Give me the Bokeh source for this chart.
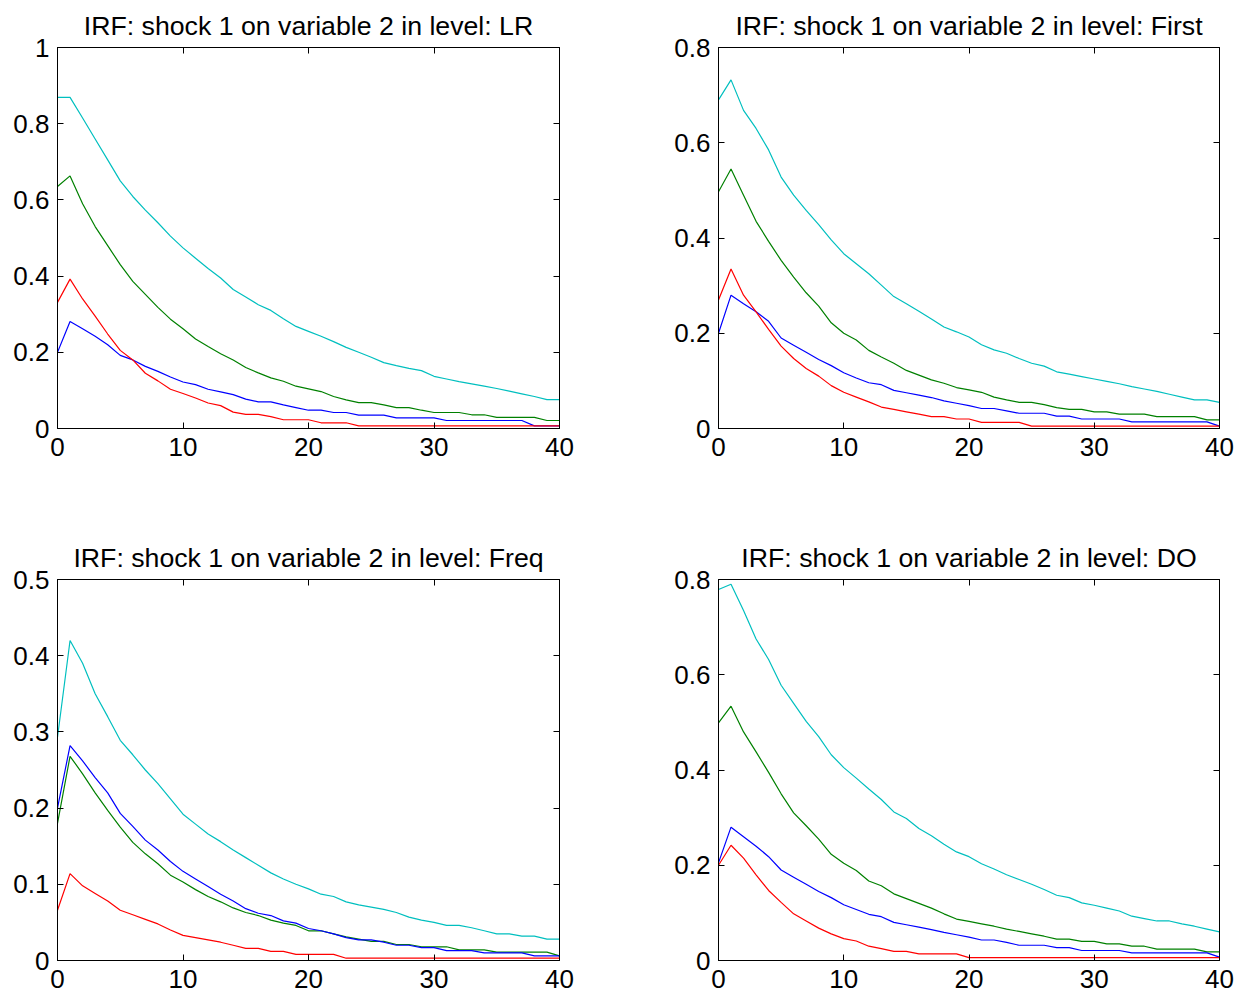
from bokeh.plotting import figure
from bokeh.models import LinearAxis, FixedTicker, Range1d
from bokeh.layouts import column, row
from bokeh.embed import file_html
from bokeh.resources import INLINE

horizon = list(range(41))

titles = ["IRF: shock 1 on variable 2 in level: LR",
          "IRF: shock 1 on variable 2 in level: First",
          "IRF: shock 1 on variable 2 in level: Freq",
          "IRF: shock 1 on variable 2 in level: DO"]

y_max = [1.0, 0.8, 0.5, 0.8]
y_ticks = [[0, 0.2, 0.4, 0.6, 0.8, 1.0],
           [0, 0.2, 0.4, 0.6, 0.8],
           [0, 0.1, 0.2, 0.3, 0.4, 0.5],
           [0, 0.2, 0.4, 0.6, 0.8]]
y_tick_labels = [["0", "0.2", "0.4", "0.6", "0.8", "1"],
                 ["0", "0.2", "0.4", "0.6", "0.8"],
                 ["0", "0.1", "0.2", "0.3", "0.4", "0.5"],
                 ["0", "0.2", "0.4", "0.6", "0.8"]]
x_ticks = [0, 10, 20, 30, 40]
x_tick_labels = ["0", "10", "20", "30", "40"]

# ---- LR ----
lr_upper = [0.869, 0.869, 0.815, 0.76, 0.705, 0.65, 0.609, 0.573, 0.54, 0.505, 0.474,
            0.447, 0.42, 0.395, 0.365, 0.345, 0.325, 0.31, 0.288, 0.268, 0.255,
            0.242, 0.228, 0.213, 0.2, 0.187, 0.173, 0.165, 0.158, 0.152, 0.137,
            0.13, 0.123, 0.117, 0.111, 0.105, 0.098, 0.091, 0.084, 0.076, 0.076]
lr_median = [0.635, 0.663, 0.59, 0.53, 0.48, 0.43, 0.386, 0.352, 0.318, 0.287, 0.262,
             0.235, 0.215, 0.196, 0.18, 0.16, 0.146, 0.133, 0.124, 0.111, 0.104,
             0.097, 0.084, 0.075, 0.068, 0.068, 0.062, 0.055, 0.055, 0.048, 0.042,
             0.042, 0.042, 0.036, 0.036, 0.029, 0.029, 0.029, 0.029, 0.021, 0.021]
lr_lower = [0.331, 0.392, 0.34, 0.295, 0.248, 0.205, 0.18, 0.145, 0.125, 0.103, 0.092,
            0.08, 0.067, 0.06, 0.043, 0.037, 0.037, 0.031, 0.023, 0.023, 0.023,
            0.015, 0.015, 0.015, 0.007, 0.007, 0.007, 0.007, 0.007, 0.007, 0.007,
            0.007, 0.007, 0.007, 0.007, 0.007, 0.007, 0.007, 0.007, 0.007, 0.007]
lr_point = [0.2, 0.281, 0.262, 0.242, 0.22, 0.192, 0.18, 0.163, 0.15, 0.135, 0.122,
            0.115, 0.103, 0.096, 0.089, 0.077, 0.07, 0.07, 0.062, 0.055, 0.048,
            0.048, 0.042, 0.042, 0.035, 0.035, 0.035, 0.028, 0.028, 0.028, 0.028,
            0.021, 0.021, 0.021, 0.021, 0.021, 0.021, 0.021, 0.007, 0.007, 0.007]

# ---- First ----
first_upper = [0.69, 0.732, 0.668, 0.63, 0.585, 0.528, 0.49, 0.458, 0.428, 0.396, 0.367,
               0.346, 0.325, 0.301, 0.277, 0.262, 0.246, 0.23, 0.213, 0.203, 0.192,
               0.176, 0.165, 0.158, 0.147, 0.137, 0.131, 0.119, 0.114, 0.109, 0.104,
               0.099, 0.094, 0.088, 0.083, 0.078, 0.072, 0.066, 0.06, 0.06, 0.055]
first_median = [0.497, 0.545, 0.49, 0.435, 0.393, 0.353, 0.318, 0.285, 0.257, 0.222, 0.2,
                0.186, 0.164, 0.15, 0.137, 0.122, 0.112, 0.102, 0.095, 0.086, 0.081,
                0.076, 0.066, 0.06, 0.055, 0.055, 0.05, 0.044, 0.04, 0.04, 0.035,
                0.035, 0.03, 0.03, 0.03, 0.025, 0.025, 0.025, 0.025, 0.018, 0.018]
first_lower = [0.27, 0.335, 0.28, 0.245, 0.208, 0.173, 0.147, 0.126, 0.11, 0.09, 0.076,
               0.066, 0.056, 0.045, 0.04, 0.035, 0.03, 0.025, 0.025, 0.02, 0.02,
               0.013, 0.013, 0.013, 0.013, 0.005, 0.005, 0.005, 0.005, 0.005, 0.005,
               0.005, 0.005, 0.005, 0.005, 0.005, 0.005, 0.005, 0.005, 0.005, 0.005]
first_point = [0.2, 0.28, 0.262, 0.245, 0.225, 0.19, 0.175, 0.16, 0.145, 0.132, 0.117,
               0.106, 0.096, 0.092, 0.08, 0.075, 0.07, 0.065, 0.058, 0.053, 0.048,
               0.042, 0.042, 0.037, 0.032, 0.032, 0.032, 0.026, 0.026, 0.02, 0.02,
               0.02, 0.02, 0.014, 0.014, 0.014, 0.014, 0.014, 0.014, 0.014, 0.005]

# ---- Freq ----
freq_upper = [0.293, 0.42, 0.39, 0.35, 0.32, 0.289, 0.27, 0.25, 0.232, 0.212, 0.192,
              0.179, 0.166, 0.156, 0.145, 0.135, 0.125, 0.115, 0.107, 0.1, 0.094,
              0.087, 0.084, 0.077, 0.073, 0.07, 0.067, 0.063, 0.057, 0.053, 0.05,
              0.046, 0.046, 0.043, 0.039, 0.035, 0.035, 0.032, 0.032, 0.028, 0.028]
freq_median = [0.18, 0.268, 0.245, 0.22, 0.197, 0.175, 0.155, 0.14, 0.127, 0.112, 0.103,
               0.093, 0.084, 0.077, 0.069, 0.063, 0.059, 0.053, 0.049, 0.046, 0.039,
               0.039, 0.035, 0.031, 0.028, 0.025, 0.025, 0.021, 0.021, 0.018, 0.018,
               0.018, 0.014, 0.014, 0.014, 0.011, 0.011, 0.011, 0.011, 0.011, 0.006]
freq_lower = [0.066, 0.114, 0.098, 0.088, 0.078, 0.066, 0.06, 0.054, 0.048, 0.04, 0.033,
              0.03, 0.027, 0.024, 0.02, 0.016, 0.016, 0.012, 0.012, 0.008, 0.008,
              0.008, 0.008, 0.003, 0.003, 0.003, 0.003, 0.003, 0.003, 0.003, 0.003,
              0.003, 0.003, 0.003, 0.003, 0.003, 0.003, 0.003, 0.003, 0.003, 0.003]
freq_point = [0.2, 0.282, 0.262, 0.24, 0.22, 0.193, 0.176, 0.158, 0.145, 0.13, 0.117,
              0.107, 0.097, 0.087, 0.078, 0.068, 0.062, 0.059, 0.052, 0.049, 0.042,
              0.039, 0.035, 0.03, 0.027, 0.027, 0.024, 0.02, 0.02, 0.017, 0.017,
              0.013, 0.013, 0.013, 0.01, 0.01, 0.01, 0.01, 0.006, 0.006, 0.006]

# ---- DO ----
do_upper = [0.779, 0.79, 0.735, 0.675, 0.632, 0.578, 0.54, 0.502, 0.47, 0.432, 0.405,
            0.383, 0.36, 0.338, 0.312, 0.298, 0.277, 0.262, 0.244, 0.228, 0.218,
            0.203, 0.192, 0.18, 0.17, 0.16, 0.149, 0.137, 0.132, 0.121, 0.116,
            0.11, 0.104, 0.093, 0.088, 0.083, 0.083, 0.077, 0.072, 0.066, 0.06]
do_median = [0.499, 0.534, 0.48, 0.438, 0.395, 0.35, 0.31, 0.283, 0.255, 0.223, 0.204,
             0.189, 0.167, 0.157, 0.14, 0.13, 0.12, 0.11, 0.098, 0.087, 0.082,
             0.077, 0.072, 0.066, 0.061, 0.056, 0.051, 0.045, 0.045, 0.04, 0.04,
             0.035, 0.035, 0.03, 0.03, 0.024, 0.024, 0.024, 0.024, 0.018, 0.018]
do_lower = [0.2, 0.242, 0.215, 0.18, 0.147, 0.122, 0.098, 0.083, 0.068, 0.056, 0.046,
            0.041, 0.03, 0.025, 0.019, 0.019, 0.014, 0.014, 0.014, 0.014, 0.006,
            0.006, 0.006, 0.006, 0.006, 0.006, 0.006, 0.006, 0.006, 0.006, 0.006,
            0.006, 0.006, 0.006, 0.006, 0.006, 0.006, 0.006, 0.006, 0.006, 0.006]
do_point = [0.205, 0.28, 0.26, 0.24, 0.218, 0.19, 0.175, 0.16, 0.145, 0.132, 0.117,
            0.107, 0.097, 0.092, 0.08, 0.075, 0.07, 0.065, 0.059, 0.054, 0.049,
            0.043, 0.043, 0.038, 0.032, 0.032, 0.032, 0.027, 0.027, 0.021, 0.021,
            0.021, 0.021, 0.016, 0.016, 0.016, 0.016, 0.016, 0.016, 0.016, 0.007]

series = [
    (lr_upper, lr_median, lr_point, lr_lower),
    (first_upper, first_median, first_point, first_lower),
    (freq_upper, freq_median, freq_point, freq_lower),
    (do_upper, do_median, do_point, do_lower),
]
line_colors = ["#00BFBF", "#008000", "#0000FF", "#FF0000"]

FONT = "Liberation Sans"
TICK_FS = "26px"
TITLE_FS = "26.7px"

# geometry for each panel: (width, height, left, right, top, bottom)
geom = [
    (625, 498, 57, 66, 47, 70),
    (626, 498, 93, 32, 47, 70),
    (625, 500, 57, 66, 81, 38),
    (626, 500, 93, 32, 81, 38),
]


def style_axis(ax, show_labels, ticks, labels):
    ax.ticker = FixedTicker(ticks=ticks)
    ax.major_label_overrides = {t: l for t, l in zip(ticks, labels)}
    ax.axis_line_color = "black"
    ax.axis_line_width = 1
    ax.major_tick_line_color = "black"
    ax.major_tick_in = 6
    ax.major_tick_out = 0
    ax.minor_tick_line_color = None
    if show_labels:
        ax.major_label_text_font = FONT
        ax.major_label_text_font_size = TICK_FS
        ax.major_label_text_color = "black"
    else:
        ax.major_label_text_font_size = "0px"
        ax.major_label_standoff = 0
        ax.major_label_text_color = None


figs = []
for i in range(4):
    w, h, l, r, t, b = geom[i]
    p = figure(width=w, height=h, output_backend="svg", toolbar_location=None,
               x_range=Range1d(0, 40), y_range=Range1d(0, y_max[i]),
               min_border_left=l, min_border_right=r,
               min_border_top=t, min_border_bottom=b,
               title=titles[i])
    p.title.align = "center"
    p.title.text_font = FONT
    p.title.text_font_size = TITLE_FS
    p.title.text_font_style = "normal"
    p.title.text_color = "black"
    p.title.standoff = 14
    p.title.offset = 0
    p.grid.visible = False
    p.outline_line_color = "black"
    p.outline_line_width = 1
    p.background_fill_color = "white"
    p.border_fill_color = "white"

    style_axis(p.xaxis[0], True, x_ticks, x_tick_labels)
    p.xaxis[0].major_label_standoff = 9
    style_axis(p.yaxis[0], True, y_ticks[i], y_tick_labels[i])
    p.yaxis[0].major_label_standoff = 8

    top_ax = LinearAxis()
    style_axis(top_ax, False, x_ticks, x_tick_labels)
    p.add_layout(top_ax, "above")
    right_ax = LinearAxis()
    style_axis(right_ax, False, y_ticks[i], y_tick_labels[i])
    p.add_layout(right_ax, "right")

    for vals, col in zip(series[i], line_colors):
        p.line(horizon, vals, line_color=col, line_width=1.2)
    figs.append(p)

layout = column(row(figs[0], figs[1]), row(figs[2], figs[3]))
open("out.html", "w").write(file_html(layout, INLINE))
